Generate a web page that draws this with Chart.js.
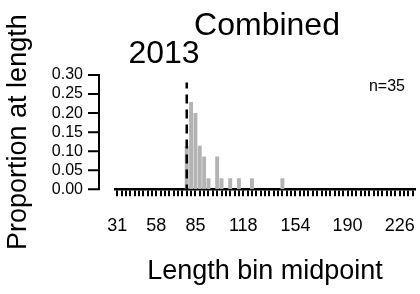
<!DOCTYPE html>
<html>
<head>
<meta charset="utf-8">
<script src="https://cdn.jsdelivr.net/npm/chart.js@4"></script>
<style>
  html, body { margin: 0; padding: 0; background: #fff; }
  #lenChart { display: block; }
</style>
</head>
<body>
<canvas id="lenChart" width="420" height="294"></canvas>
<script>
// Length composition data (bin midpoints, proportion at length)
const binMids = [31, 34, 37, 40, 43, 46, 49, 52, 55, 58, 61, 64, 67, 70, 73, 76, 79, 82, 85, 88,
    91, 94, 97, 100, 103, 106, 109, 112, 115, 118, 121, 124, 127, 130, 133, 136, 139, 142, 145, 148,
    151, 154, 157, 160, 163, 166, 169, 172, 175, 178, 181, 184, 187, 190, 193, 196, 199, 202, 205, 208,
    211, 214, 217, 220, 223, 226, 229, 232, 235];
const proportions = [0, 0, 0, 0, 0, 0, 0, 0, 0, 0, 0, 0, 0, 0, 0, 0, 0.114, 0.229, 0.200, 0.114,
    0.086, 0.029, 0, 0.086, 0.029, 0, 0.029, 0, 0.029, 0, 0, 0.029, 0, 0, 0, 0, 0, 0, 0.029, 0,
    0, 0, 0, 0, 0, 0, 0, 0, 0, 0, 0, 0, 0, 0, 0, 0, 0, 0, 0, 0,
    0, 0, 0, 0, 0, 0, 0, 0, 0];
const xTickLabels = [31, 58, 85, 118, 154, 190, 226];
const yTicks = [0, 0.05, 0.10, 0.15, 0.20, 0.25, 0.30];
const refLength = 79;   // dashed vertical line
const sampleSize = 35;
const fleetTitle = 'Combined';
const yearTitle = '2013';

const FONT = "'Liberation Sans', Arial, Helvetica, sans-serif";

// extra drawing: titles, n label, detached y axis, dashed reference line
const extras = {
    id: 'extras',
    afterDatasetsDraw(chart) {
        const { ctx, scales: { x, y } } = chart;
        const px = x.getPixelForValue(binMids.indexOf(refLength));
        ctx.save();
        ctx.strokeStyle = '#000';
        ctx.lineWidth = 2.5;
        ctx.setLineDash([9, 6]);
        ctx.lineDashOffset = 3;
        ctx.beginPath();
        ctx.moveTo(px, y.getPixelForValue(0.28));
        ctx.lineTo(px, y.getPixelForValue(0));
        ctx.stroke();
        ctx.restore();
    },
    afterDraw(chart) {
        const { ctx, chartArea, scales: { y } } = chart;
        const ax = chartArea.left - 16;
        ctx.save();
        ctx.strokeStyle = '#000';
        ctx.lineWidth = 2;
        ctx.beginPath();
        ctx.moveTo(ax, y.getPixelForValue(yTicks[0]) + 1);
        ctx.lineTo(ax, y.getPixelForValue(yTicks[yTicks.length - 1]) - 1);
        yTicks.forEach(v => {
            const py = y.getPixelForValue(v);
            ctx.moveTo(ax, py);
            ctx.lineTo(ax - 11, py);
        });
        ctx.stroke();

        ctx.fillStyle = '#000';
        ctx.textAlign = 'center';
        ctx.textBaseline = 'alphabetic';
        ctx.font = '32px ' + FONT;
        ctx.fillText(fleetTitle, 267, 35);
        ctx.fillText(yearTitle, 164, 63);
        ctx.textAlign = 'right';
        ctx.font = '16px ' + FONT;
        ctx.fillText('n=' + sampleSize, 405, 91);
        ctx.restore();
    }
};

new Chart(document.getElementById('lenChart'), {
    type: 'bar',
    data: {
        labels: binMids,
        datasets: [{
            data: proportions,
            backgroundColor: '#b3b3b3',
            borderWidth: 0,
            barPercentage: 0.9,
            categoryPercentage: 1
        }]
    },
    options: {
        responsive: false,
        devicePixelRatio: 1,
        animation: false,
        layout: { padding: { top: 75, right: 5, bottom: 0, left: 0 } },
        plugins: {
            legend: { display: false },
            tooltip: { enabled: false }
        },
        scales: {
            x: {
                type: 'category',
                offset: true,
                afterFit(scale) {
                    scale.height = 104.7;
                    scale.paddingLeft = 0;
                    scale.paddingRight = 0;
                },
                border: { display: true, color: '#000', width: 2.5 },
                grid: {
                    display: true,
                    drawOnChartArea: false,
                    offset: false,
                    color: '#000',
                    lineWidth: 2,
                    tickLength: 7
                },
                ticks: {
                    autoSkip: false,
                    maxRotation: 0,
                    minRotation: 0,
                    padding: 19,
                    color: '#000',
                    font: { family: FONT, size: 18 },
                    callback(value) {
                        const v = binMids[value];
                        return xTickLabels.includes(v) ? String(v) : '';
                    }
                },
                title: {
                    display: true,
                    text: 'Length bin midpoint',
                    color: '#000',
                    font: { family: FONT, size: 27 },
                    padding: { top: 0, bottom: 6 }
                }
            },
            y: {
                min: 0,
                max: 0.3,
                afterFit(scale) { scale.width = 115; },
                afterBuildTicks(scale) { scale.ticks = yTicks.map(v => ({ value: v })); },
                border: { display: false },
                grid: { display: false, drawTicks: false },
                ticks: {
                    autoSkip: false,
                    padding: 32,
                    color: '#000',
                    font: { family: FONT, size: 16 },
                    callback: v => v.toFixed(2)
                },
                title: {
                    display: true,
                    text: 'Proportion at length',
                    color: '#000',
                    font: { family: FONT, size: 27 },
                    padding: { top: 2, bottom: 0 }
                }
            }
        }
    },
    plugins: [extras]
});
</script>
</body>
</html>
